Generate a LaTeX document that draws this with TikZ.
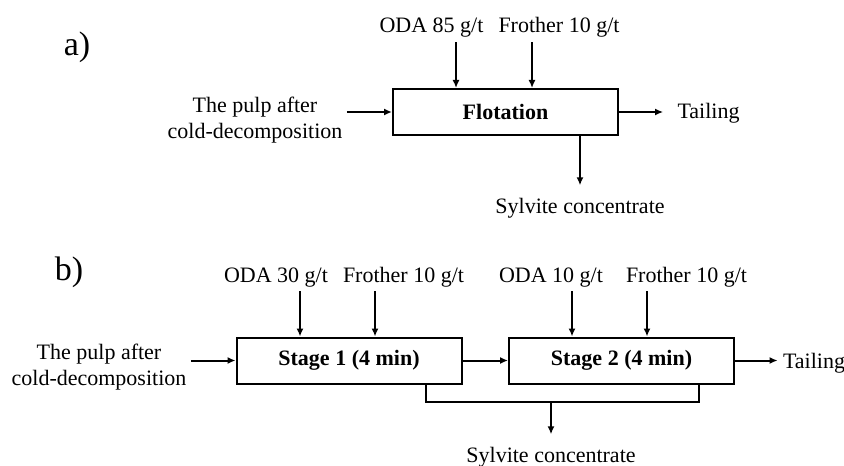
\documentclass[tikz,border=0pt]{standalone}
\usepackage{fontspec}
\setmainfont{Liberation Serif}
\usetikzlibrary{positioning,arrows.meta}
\tikzset{box/.style={draw,line width=1pt,minimum width=112.5pt,minimum height=23pt,inner sep=0pt,font=\fontsize{11}{13}\selectfont\bfseries}}
\tikzset{lbl/.style={inner sep=0pt,anchor=base,font=\fontsize{11}{13}\selectfont}}
\tikzset{feed/.style={lbl,align=center}}
\tikzset{part/.style={inner sep=0pt,anchor=base,font=\fontsize{17}{19}\selectfont}}
\tikzset{flow/.style={->,line width=1pt}}

\begin{document}
\begin{tikzpicture}[x=0.5pt,y=-0.5pt,>={Latex[length=4pt,width=3.5pt]}]
\useasboundingbox (0,0) rectangle (844,465);
% a) one flotation step
\node[part] (pa) at (77,56) {a)};
\node[box] (flot) at (505.5,112) {Flotation};
\node[lbl] (oda85) at (431.5,33) {ODA 85 g/t};
\node[lbl] (froa) at (559,33) {Frother 10 g/t};
\node[feed] (pulpa) at (255,138) {The pulp after\\cold-decomposition};
\node[lbl] (taila) at (708.5,119) {Tailing};
\node[lbl] (syla) at (580,213) {Sylvite concentrate};
\draw[flow] ([xshift=12.25pt,yshift=-2pt]oda85.south) -- ([xshift=12.25pt]oda85.south |- flot.north);
\draw[flow] ([xshift=-13.5pt,yshift=-2pt]froa.south) -- ([xshift=-13.5pt]froa.south |- flot.north);
\draw[flow] ([xshift=2pt]pulpa.east |- flot.west) -- (flot.west);
\draw[flow] (flot.east) -- ([xshift=-7pt]taila.west |- flot.east);
\draw[flow] (flot.south -| syla) -- ([yshift=6pt]syla.north);
% b) two stages
\node[part] (pb) at (69,280) {b)};
\node[box] (s1) at (349,360.5) {Stage 1 (4 min)};
\node[box] (s2) at (621.5,360.5) {Stage 2 (4 min)};
\node[lbl] (oda30) at (276,282) {ODA 30 g/t};
\node[lbl] (frob) at (403.5,282) {Frother 10 g/t};
\node[lbl] (oda10) at (551,282) {ODA 10 g/t};
\node[lbl] (froc) at (686.5,282) {Frother 10 g/t};
\node[feed] (pulpb) at (99,385) {The pulp after\\cold-decomposition};
\node[lbl] (tailb) at (814,368) {Tailing};
\node[lbl] (sylb) at (551,462) {Sylvite concentrate};
\coordinate (col) at (551,402);
\draw[flow] ([xshift=12pt,yshift=-2pt]oda30.south) -- ([xshift=12pt]oda30.south |- s1.north);
\draw[flow] ([xshift=-14.25pt,yshift=-2pt]frob.south) -- ([xshift=-14.25pt]frob.south |- s1.north);
\draw[flow] ([xshift=10.5pt,yshift=-2pt]oda10.south) -- ([xshift=10.5pt]oda10.south |- s2.north);
\draw[flow] ([xshift=-19.75pt,yshift=-2pt]froc.south) -- ([xshift=-19.75pt]froc.south |- s2.north);
\draw[flow] ([xshift=2pt]pulpb.east |- s1.west) -- (s1.west);
\draw[flow] (s1.east) -- (s2.west);
\draw[flow] (s2.east) -- ([xshift=-2.5pt]tailb.west |- s2.east);
\draw[line width=1pt] ([xshift=-18.5pt]s1.south east) |- (col) -| ([xshift=-18pt]s2.south east);
\draw[flow] (col) -- ([yshift=6pt]sylb.north);
\end{tikzpicture}
\end{document}
